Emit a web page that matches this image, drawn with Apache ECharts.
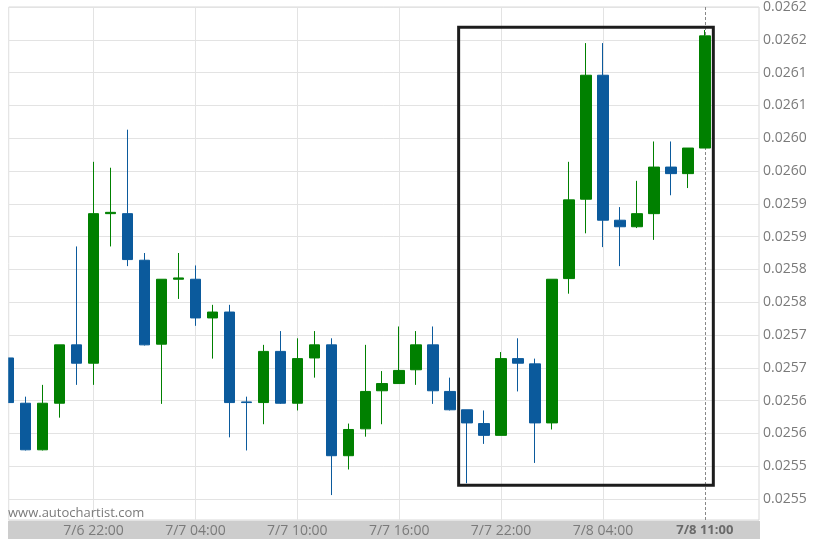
<!DOCTYPE html>
<html><head><meta charset="utf-8">
<script src="https://cdn.jsdelivr.net/npm/echarts@6/dist/echarts.min.js"></script>
<style>html,body{margin:0;padding:0;background:#fff}#c{width:822px;height:548px}</style>
</head><body><div id="c"></div>
<script>
const times = ['7/6 17:00','7/6 18:00','7/6 19:00','7/6 20:00','7/6 21:00','7/6 22:00','7/6 23:00',
  '7/7 00:00','7/7 01:00','7/7 02:00','7/7 03:00','7/7 04:00','7/7 05:00','7/7 06:00','7/7 07:00','7/7 08:00',
  '7/7 09:00','7/7 10:00','7/7 11:00','7/7 12:00','7/7 13:00','7/7 14:00','7/7 15:00','7/7 16:00','7/7 17:00',
  '7/7 18:00','7/7 19:00','7/7 20:00','7/7 21:00','7/7 22:00','7/7 23:00',
  '7/8 00:00','7/8 01:00','7/8 02:00','7/8 03:00','7/8 04:00','7/8 05:00','7/8 06:00','7/8 07:00','7/8 08:00','7/8 09:00','7/8 10:00'];
const opens = [0.025715,0.025646,0.025575,0.025646,0.025735,0.025707,0.025935,0.025935,0.025864,0.025736,
  0.025835,0.025835,0.025776,0.025785,0.025648,0.025647,0.025725,0.025646,0.025715,0.025735,
  0.025566,0.025607,0.025665,0.025676,0.025697,0.025735,0.025664,0.025636,0.025615,0.025597,
  0.025714,0.025706,0.025616,0.025836,0.025957,0.026146,0.025925,0.025915,0.025935,0.026006,
  0.025996,0.026035];
const closes = [0.025647,0.025575,0.025646,0.025735,0.025707,0.025935,0.025937,0.025865,0.025735,0.025835,
  0.025837,0.025776,0.025785,0.025647,0.025647,0.025725,0.025646,0.025714,0.025735,0.025566,
  0.025606,0.025664,0.025676,0.025696,0.025735,0.025665,0.025636,0.025616,0.025597,0.025714,
  0.025707,0.025616,0.025835,0.025956,0.026146,0.025925,0.025915,0.025935,0.026006,0.025996,
  0.026035,0.026206];
const highs = [0.025715,0.025656,0.025674,0.025735,0.025885,0.026014,0.026005,0.026063,0.025875,0.025835,
  0.025875,0.025856,0.025796,0.025796,0.025656,0.025735,0.025756,0.025745,0.025756,0.025745,
  0.025615,0.025735,0.025695,0.025763,0.025756,0.025763,0.025685,0.025636,0.025635,0.025724,
  0.025745,0.025714,0.025835,0.026014,0.026195,0.026195,0.025945,0.025985,0.026045,0.026045,
  0.026035,0.026215];
const lows = [0.025647,0.025574,0.025574,0.025624,0.025674,0.025674,0.025885,0.025855,0.025734,0.025645,
  0.025805,0.025764,0.025714,0.025594,0.025574,0.025614,0.025645,0.025635,0.025685,0.025506,
  0.025545,0.025595,0.025614,0.025676,0.025674,0.025645,0.025635,0.025524,0.025584,0.025597,
  0.025664,0.025555,0.025606,0.025813,0.025905,0.025884,0.025855,0.025913,0.025895,0.025963,
  0.025974,0.026035];
const yTickLabels = ['0.0255','0.0255','0.0256','0.0256','0.0257','0.0257','0.0258','0.0258',
  '0.0259','0.0259','0.0260','0.0260','0.0261','0.0261','0.0262','0.0262'];
const xTickIdx = [5,11,17,23,29,35];
const xTickLabels = ['7/6 22:00','7/7 04:00','7/7 10:00','7/7 16:00','7/7 22:00','7/8 04:00'];
const lastIdx = [41];
const lastLabel = ['7/8 11:00'];
const boxX = [26.5, 41.5];
const boxY = [0.025521, 0.026219];

const yFirstTick = 0.0255, yStep = 0.00005;
const xMin = 0, xMax = 44.19;
const font = 'Open Sans';
const data = times.map((t, i) => [i, opens[i], closes[i], lows[i], highs[i]]);

const chart = echarts.init(document.getElementById('c'), null, {renderer: 'canvas'});
chart.setOption({
  animation: false,
  backgroundColor: '#fff',
  title: {text: 'www.autochartist.com', left: 8, top: 507, padding: 0,
    textStyle: {fontSize: 13, fontWeight: 'normal', color: '#7a7a7a', fontFamily: font}},
  graphic: [
    {type: 'rect', left: 8, top: 521, z: -1, shape: {width: 752, height: 18}, style: {fill: '#cdcdcd'}},
    {type: 'rect', left: 0, top: 0, z: 50, shape: {width: 8.2, height: 520}, style: {fill: '#ffffff'}}
  ],
  grid: {left: 8.7, right: 63, top: 5.7, bottom: 28, show: true, borderColor: '#d8d8d8', borderWidth: 1},
  xAxis: [{
    type: 'value', min: xMin, max: xMax, position: 'bottom',
    axisLine: {show: false}, axisTick: {show: false, customValues: xTickIdx},
    splitLine: {show: true, lineStyle: {color: '#e3e3e3', width: 1}},
    axisLabel: {customValues: xTickIdx, margin: 4, fontSize: 14, color: '#7a7a7a', fontFamily: font,
      formatter: v => { const k = xTickIdx.indexOf(Math.round(v)); return k >= 0 ? xTickLabels[k] : ''; }}
  }, {
    type: 'value', min: xMin, max: xMax, position: 'bottom', offset: 0,
    axisLine: {show: false}, axisTick: {show: false, customValues: lastIdx},
    splitLine: {show: true, lineStyle: {color: '#888', width: 1, type: [3, 2]}},
    axisLabel: {customValues: lastIdx, margin: 4, fontSize: 13, fontWeight: 'bold', color: '#6a6a6a', fontFamily: font,
      formatter: v => { const k = lastIdx.indexOf(Math.round(v)); return k >= 0 ? lastLabel[k] : ''; }}
  }],
  yAxis: {
    type: 'value', position: 'right', min: 0.025468, max: 0.02625, splitNumber: 15, scale: true,
    axisLine: {show: false}, axisTick: {show: false},
    splitLine: {show: true, lineStyle: {color: '#e3e3e3', width: 1}},
    axisLabel: {margin: 4, fontSize: 14, color: '#7a7a7a', fontFamily: font, padding: [4, 0, 0, 0],
      showMinLabel: false,
      formatter: v => {
        const k = Math.round((v - yFirstTick) / yStep);
        if (k < 0 || k >= yTickLabels.length || Math.abs(v - (yFirstTick + k * yStep)) > 1e-9) return '';
        return yTickLabels[k];
      }}
  },
  series: [{
    type: 'candlestick', xAxisIndex: 0, yAxisIndex: 0, barWidth: 11, clip: true,
    encode: {x: 0, y: [1, 2, 3, 4]},
    itemStyle: {color: '#008000', color0: '#0b5a9c', borderColor: '#008000', borderColor0: '#0b5a9c', borderWidth: 1},
    data: data,
    markArea: {silent: true,
      itemStyle: {color: 'rgba(0,0,0,0)', borderColor: '#1c1c1c', borderWidth: 3, borderRadius: 2},
      data: [[{coord: [boxX[0], boxY[0]]}, {coord: [boxX[1], boxY[1]]}]]}
  }]
});
</script></body></html>
